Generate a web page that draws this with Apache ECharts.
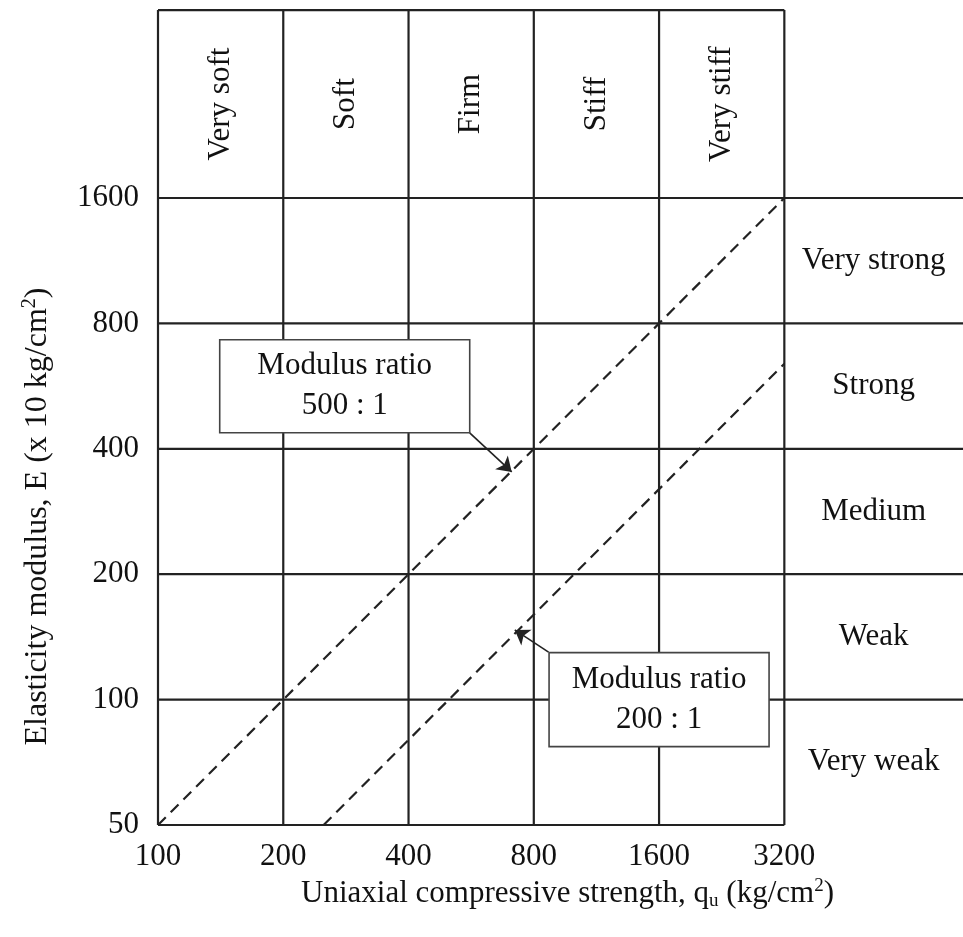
<!DOCTYPE html>
<html>
<head>
<meta charset="utf-8">
<script src="https://cdn.jsdelivr.net/npm/echarts@6/dist/echarts.min.js"></script>
<style>
  html, body { margin: 0; padding: 0; background: #ffffff; }
  #chart { width: 963px; height: 937px; }
</style>
</head>
<body>
<div id="chart"></div>
<script>
// Consistency classes by uniaxial compressive strength q_u (kg/cm²)
const strengthBounds = [100, 200, 400, 800, 1600, 3200];
const consistencyClasses = ['Very soft', 'Soft', 'Firm', 'Stiff', 'Very stiff'];

// Strength classes by elasticity modulus E (x 10 kg/cm²)
const modulusBounds = [50, 100, 200, 400, 800, 1600];
const modulusClasses = ['Very weak', 'Weak', 'Medium', 'Strong', 'Very strong'];

// Modulus ratio lines, points as [q_u, E]
const ratio500 = [[100, 50], [3200, 1600]];
const ratio200 = [[250, 50], [3200, 640]];

// Axis tick labels
const xTicks = [100, 200, 400, 800, 1600, 3200];
const yTicks = [50, 100, 200, 400, 800, 1600];

// Outer edges of the class bands (consistency band on top, strength band on the right)
const BAND_TOP_E = 4520;
const BAND_RIGHT_Q = 8600;

const FONT = '"Liberation Serif", "Times New Roman", serif';
const FS = 31;
const INK = '#111111';
const RULE = '#222222';

const qMin = strengthBounds[0], qMax = strengthBounds[strengthBounds.length - 1];
const eMin = modulusBounds[0], eMax = modulusBounds[modulusBounds.length - 1];

// Frame rules as [q1, E1, q2, E2]
const rules = [];
strengthBounds.forEach(q => rules.push([q, eMin, q, BAND_TOP_E]));
modulusBounds.forEach((e, i) => rules.push([qMin, e, i === 0 ? qMax : BAND_RIGHT_Q, e]));
rules.push([qMin, BAND_TOP_E, qMax, BAND_TOP_E]);

// Class names, placed at the (log) centre of their band: [q, E, name, vertical]
const gmean = (a, b) => Math.sqrt(a * b);
const classLabels = [];
consistencyClasses.forEach((name, i) => {
  classLabels.push([gmean(strengthBounds[i], strengthBounds[i + 1]), gmean(eMax, BAND_TOP_E), name, 1]);
});
modulusClasses.forEach((name, i) => {
  classLabels.push([gmean(qMax, BAND_RIGHT_Q), gmean(modulusBounds[i], modulusBounds[i + 1]), name, 0]);
});

// Callout boxes: [q, E, text, boxWidth, boxHeight]
const callouts = [
  [281, 565, 'Modulus ratio\n500 : 1', 250, 93],
  [1600, 100, 'Modulus ratio\n200 : 1', 220, 94]
];

const chart = echarts.init(document.getElementById('chart'), null, { renderer: 'canvas' });

const axisFont = { fontFamily: FONT, fontSize: FS, color: INK, formatter: v => String(v) };

// Leader arrow from a callout box to its ratio line
const leader = (from, to) => ({
  silent: true,
  symbol: ['none', 'arrow'],
  symbolSize: 14,
  label: { show: false },
  lineStyle: { color: RULE, width: 1.6, type: 'solid' },
  itemStyle: { color: RULE },
  data: [[{ coord: from }, { coord: to }]]
});

chart.setOption({
  animation: false,
  backgroundColor: '#ffffff',
  grid: { left: 158, right: 0, top: 198, bottom: 112, containLabel: false },
  xAxis: {
    type: 'log',
    logBase: 2,
    min: qMin,
    max: BAND_RIGHT_Q,
    axisLine: { show: false },
    axisTick: { show: false },
    splitLine: { show: false },
    axisLabel: Object.assign({ customValues: xTicks, margin: 16 }, axisFont),
    name: 'Uniaxial compressive strength, q{sub|u} (kg/cm{sup|2})',
    nameLocation: 'middle',
    nameGap: 46,
    nameTextStyle: {
      fontFamily: FONT, fontSize: FS, color: INK, padding: [0, 0, 0, 14],
      rich: {
        sub: { fontFamily: FONT, fontSize: 19, color: INK, verticalAlign: 'bottom', padding: [15, 0, 0, 0] },
        sup: { fontFamily: FONT, fontSize: 19, color: INK, verticalAlign: 'top', padding: [0, 0, 15, 0] }
      }
    }
  },
  yAxis: {
    type: 'log',
    logBase: 2,
    min: eMin,
    max: eMax,
    axisLine: { show: false },
    axisTick: { show: false },
    splitLine: { show: false },
    axisLabel: Object.assign({ customValues: yTicks, margin: 19 }, axisFont),
    name: 'Elasticity modulus, E (x 10 kg/cm{sup|2})',
    nameLocation: 'middle',
    nameGap: 103,
    nameTextStyle: {
      fontFamily: FONT, fontSize: 32, color: INK, padding: [0, 10, 0, 0],
      rich: {
        sup: { fontFamily: FONT, fontSize: 20, color: INK, verticalAlign: 'top', padding: [0, 0, 15, 0] }
      }
    }
  },
  series: [
    {
      type: 'custom',
      name: 'frame',
      silent: true,
      clip: false,
      z: 2,
      encode: { x: [0, 2], y: [1, 3] },
      data: rules,
      renderItem(params, api) {
        const p1 = api.coord([api.value(0), api.value(1)]);
        const p2 = api.coord([api.value(2), api.value(3)]);
        return {
          type: 'line',
          shape: { x1: p1[0], y1: p1[1], x2: p2[0], y2: p2[1] },
          style: { stroke: RULE, lineWidth: 2.2 }
        };
      }
    },
    {
      type: 'line',
      name: 'Modulus ratio 500 : 1',
      data: ratio500,
      showSymbol: false,
      silent: true,
      z: 3,
      lineStyle: { color: RULE, width: 2.2, type: [11, 7] },
      markLine: leader([561, 437], [708, 352])
    },
    {
      type: 'line',
      name: 'Modulus ratio 200 : 1',
      data: ratio200,
      showSymbol: false,
      silent: true,
      z: 3,
      lineStyle: { color: RULE, width: 2.2, type: [11, 7] },
      markLine: leader([868, 130], [720, 147])
    },
    {
      type: 'custom',
      name: 'classes',
      silent: true,
      clip: false,
      z: 4,
      encode: { x: 0, y: 1 },
      data: classLabels,
      renderItem(params, api) {
        const item = classLabels[params.dataIndex];
        const p = api.coord([item[0], item[1]]);
        return {
          type: 'text',
          x: p[0],
          y: p[1],
          rotation: item[3] ? Math.PI / 2 : 0,
          style: {
            text: item[2],
            fill: INK,
            font: FS + 'px ' + FONT,
            align: 'center',
            verticalAlign: 'middle'
          }
        };
      }
    },
    {
      type: 'custom',
      name: 'callouts',
      silent: true,
      clip: false,
      z: 5,
      encode: { x: 0, y: 1 },
      data: callouts,
      renderItem(params, api) {
        const c = callouts[params.dataIndex];
        const p = api.coord([c[0], c[1]]);
        const w = c[3], h = c[4];
        return {
          type: 'group',
          children: [
            {
              type: 'rect',
              shape: { x: p[0] - w / 2, y: p[1] - h / 2, width: w, height: h },
              style: { fill: '#ffffff', stroke: '#444444', lineWidth: 1.6 }
            },
            {
              type: 'text',
              x: p[0],
              y: p[1],
              style: {
                text: c[2],
                fill: INK,
                font: FS + 'px ' + FONT,
                lineHeight: 40,
                align: 'center',
                verticalAlign: 'middle'
              }
            }
          ]
        };
      }
    }
  ]
});
</script>
</body>
</html>
